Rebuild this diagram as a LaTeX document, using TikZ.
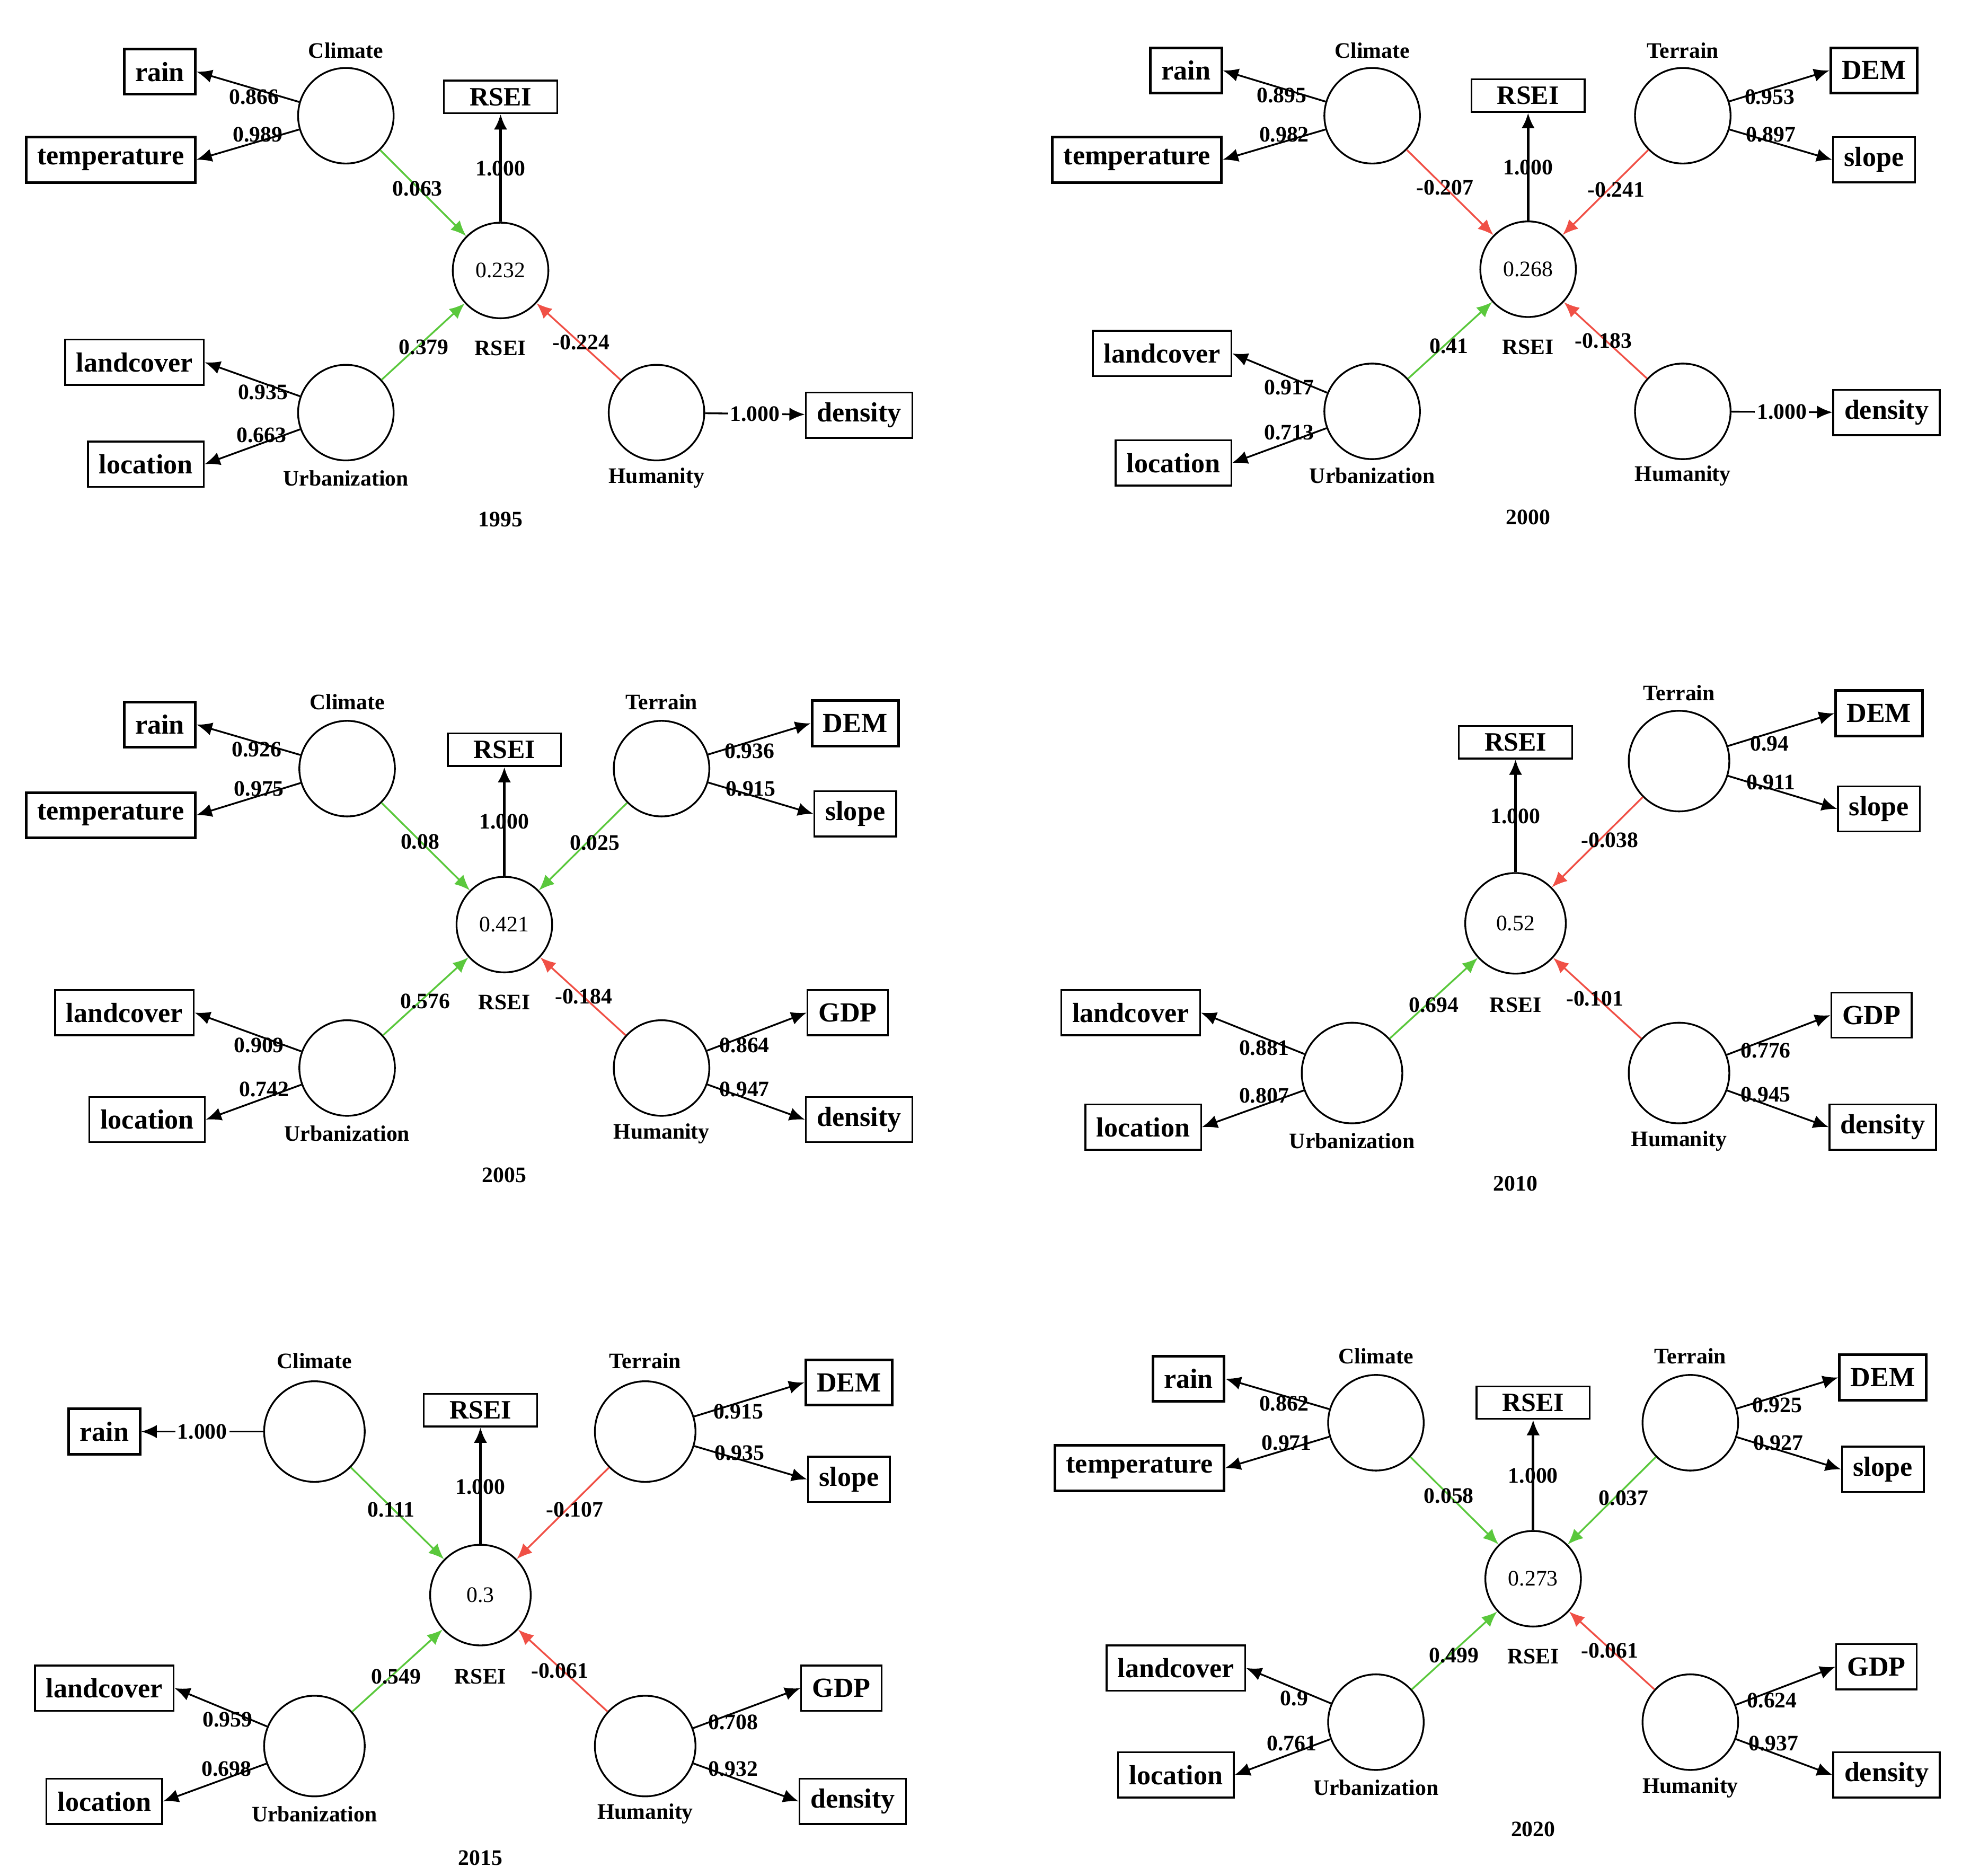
\documentclass[tikz,border=0pt]{standalone}
\usepackage{fontspec}
\setmainfont{Liberation Serif}
\usetikzlibrary{arrows.meta}
\definecolor{pg}{RGB}{90,200,60}
\definecolor{pr}{RGB}{240,80,70}
\begin{document}
\begin{tikzpicture}[x=0.02cm,y=-0.02cm,
 lat/.style={circle,draw,thick,minimum size=1.52cm,inner sep=0pt,font=\fontsize{10}{12}\selectfont},
 box/.style={draw,very thick,font=\bfseries\fontsize{12.5}{14}\selectfont,minimum height=0.72cm,inner xsep=5pt},
 rbox/.style={draw,thick,font=\bfseries\fontsize{12}{14}\selectfont,minimum height=0.5cm,minimum width=1.8cm},
 lab/.style={font=\bfseries\fontsize{10}{12}\selectfont,inner sep=1pt},
 tit/.style={font=\bfseries\fontsize{10}{12}\selectfont},
 ld/.style={thick,-{Latex[length=7pt,width=6pt]}},
 parr/.style={pg,thick,-{Latex[length=7pt,width=6pt]}},
 narr/.style={pr,thick,-{Latex[length=7pt,width=6pt]}},
 pth/.style={very thick,black,-{Latex[length=7pt,width=6pt]}}]
\useasboundingbox (0,0) rectangle (1560,1491);
% ===== 1995 =====
\node[lat] (aC) at (275,92) {};
\node[tit] (aCt) at (275,40) {Climate};
\node[lat] (aR) at (398,215) {0.232};
\node[tit] (aRt) at (398,277) {RSEI};
\node[lat] (aU) at (275,328) {};
\node[tit] (aUt) at (275,380) {Urbanization};
\node[lat] (aH) at (522,328) {};
\node[tit] (aHt) at (522,380) {Humanity};
\node[rbox] (aRb) at (398,77) {RSEI};
\node[box] (arain) at (127,57) {rain};
\node[box] (atemp) at (88,127) {temperature};
\node[box,thick] (aland) at (107,288) {landcover};
\node[box,thick] (aloc) at (116,369) {location};
\node[box,thick] (aden) at (683,330) {density};
\node[tit] (ay) at (398,413) {1995};
\draw[ld] (aC) -- (arain.east); \node[lab] at (202,77) {0.866};
\draw[ld] (aC) -- (atemp.east); \node[lab] at (205,107) {0.989};
\draw[parr] (aC) -- (aR); \node[lab] at (332,150) {0.063};
\draw[parr] (aU) -- (aR); \node[lab] at (337,276) {0.379};
\draw[narr] (aH) -- (aR); \node[lab] at (462,272) {-0.224};
\draw[pth] (aR) -- (aRb); \node[lab] at (398,134) {1.000};
\draw[ld] (aU) -- (aland.east); \node[lab] at (209,312) {0.935};
\draw[ld] (aU) -- (aloc.east); \node[lab] at (208,346) {0.663};
\draw[ld] (aH) -- node[lab,fill=white] {1.000} (aden);
% ===== 2000 =====
\node[lat] (bC) at (1091,92) {};
\node[tit] (bCt) at (1091,40) {Climate};
\node[lat] (bT) at (1338,92) {};
\node[tit] (bTt) at (1338,40) {Terrain};
\node[lat] (bR) at (1215,214) {0.268};
\node[tit] (bRt) at (1215,276) {RSEI};
\node[lat] (bU) at (1091,327) {};
\node[tit] (bUt) at (1091,378) {Urbanization};
\node[lat] (bH) at (1338,327) {};
\node[tit] (bHt) at (1338,378) {Humanity};
\node[rbox] (bRb) at (1215,76) {RSEI};
\node[box] (brain) at (943,56) {rain};
\node[box] (btemp) at (904,127) {temperature};
\node[box] (bdem) at (1490,56) {DEM};
\node[box,thick] (bslope) at (1490,127) {slope};
\node[box,thick] (bland) at (924,281) {landcover};
\node[box,thick] (bloc) at (933,368) {location};
\node[box,thick] (bden) at (1500,328) {density};
\node[tit] (by) at (1215,411) {2000};
\draw[ld] (bC) -- (brain.east); \node[lab] at (1019,76) {0.895};
\draw[ld] (bC) -- (btemp.east); \node[lab] at (1021,107) {0.982};
\draw[ld] (bT) -- (bdem.west); \node[lab] at (1407,77) {0.953};
\draw[ld] (bT) -- (bslope.west); \node[lab] at (1408,107) {0.897};
\draw[narr] (bC) -- (bR); \node[lab] at (1149,149) {-0.207};
\draw[narr] (bT) -- (bR); \node[lab] at (1285,151) {-0.241};
\draw[parr] (bU) -- (bR); \node[lab] at (1152,275) {0.41};
\draw[narr] (bH) -- (bR); \node[lab] at (1275,271) {-0.183};
\draw[pth] (bR) -- (bRb); \node[lab] at (1215,133) {1.000};
\draw[ld] (bU) -- (bland.east); \node[lab] at (1025,308) {0.917};
\draw[ld] (bU) -- (bloc.east); \node[lab] at (1025,344) {0.713};
\draw[ld] (bH) -- node[lab,fill=white] {1.000} (bden);
% ===== 2005 =====
\node[lat] (cC) at (276,611) {};
\node[tit] (cCt) at (276,558) {Climate};
\node[lat] (cT) at (526,611) {};
\node[tit] (cTt) at (526,558) {Terrain};
\node[lat] (cR) at (401,735) {0.421};
\node[tit] (cRt) at (401,797) {RSEI};
\node[lat] (cU) at (276,849) {};
\node[tit] (cUt) at (276,901) {Urbanization};
\node[lat] (cH) at (526,849) {};
\node[tit] (cHt) at (526,901) {Humanity};
\node[rbox] (cRb) at (401,596) {RSEI};
\node[box] (crain) at (127,576) {rain};
\node[box] (ctemp) at (88,648) {temperature};
\node[box] (cdem) at (680,575) {DEM};
\node[box,thick] (cslope) at (680,647) {slope};
\node[box,thick] (cland) at (99,805) {landcover};
\node[box,thick] (cloc) at (117,890) {location};
\node[box,thick] (cgdp) at (674,805) {GDP};
\node[box,thick] (cden) at (683,890) {density};
\node[tit] (cy) at (401,934) {2005};
\draw[ld] (cC) -- (crain.east); \node[lab] at (204,596) {0.926};
\draw[ld] (cC) -- (ctemp.east); \node[lab] at (206,627) {0.975};
\draw[ld] (cT) -- (cdem.west); \node[lab] at (596,597) {0.936};
\draw[ld] (cT) -- (cslope.west); \node[lab] at (597,627) {0.915};
\draw[parr] (cC) -- (cR); \node[lab] at (334,669) {0.08};
\draw[parr] (cT) -- (cR); \node[lab] at (473,670) {0.025};
\draw[parr] (cU) -- (cR); \node[lab] at (338,796) {0.576};
\draw[narr] (cH) -- (cR); \node[lab] at (464,792) {-0.184};
\draw[pth] (cR) -- (cRb); \node[lab] at (401,653) {1.000};
\draw[ld] (cU) -- (cland.east); \node[lab] at (206,831) {0.909};
\draw[ld] (cU) -- (cloc.east); \node[lab] at (210,866) {0.742};
\draw[ld] (cH) -- (cgdp.west); \node[lab] at (592,831) {0.864};
\draw[ld] (cH) -- (cden.west); \node[lab] at (592,866) {0.947};
% ===== 2010 =====
\node[lat,minimum size=1.6cm] (dT) at (1335,605) {};
\node[tit] (dTt) at (1335,551) {Terrain};
\node[lat,minimum size=1.6cm] (dR) at (1205,734) {0.52};
\node[tit] (dRt) at (1205,799) {RSEI};
\node[lat,minimum size=1.6cm] (dU) at (1075,853) {};
\node[tit] (dUt) at (1075,907) {Urbanization};
\node[lat,minimum size=1.6cm] (dH) at (1335,853) {};
\node[tit] (dHt) at (1335,907) {Humanity};
\node[rbox] (dRb) at (1205,590) {RSEI};
\node[box] (ddem) at (1494,567) {DEM};
\node[box,thick] (dslope) at (1494,643) {slope};
\node[box,thick] (dland) at (899,805) {landcover};
\node[box,thick] (dloc) at (909,896) {location};
\node[box,thick] (dgdp) at (1488,807) {GDP};
\node[box,thick] (dden) at (1497,896) {density};
\node[tit] (dy) at (1205,941) {2010};
\draw[ld] (dT) -- (ddem.west); \node[lab] at (1407,591) {0.94};
\draw[ld] (dT) -- (dslope.west); \node[lab] at (1408,622) {0.911};
\draw[narr] (dT) -- (dR); \node[lab] at (1280,668) {-0.038};
\draw[parr] (dU) -- (dR); \node[lab] at (1140,799) {0.694};
\draw[narr] (dH) -- (dR); \node[lab] at (1268,794) {-0.101};
\draw[pth] (dR) -- (dRb); \node[lab] at (1205,649) {1.000};
\draw[ld] (dU) -- (dland.east); \node[lab] at (1005,833) {0.881};
\draw[ld] (dU) -- (dloc.east); \node[lab] at (1005,871) {0.807};
\draw[ld] (dH) -- (dgdp.west); \node[lab] at (1404,835) {0.776};
\draw[ld] (dH) -- (dden.west); \node[lab] at (1404,870) {0.945};
% ===== 2015 =====
\node[lat,minimum size=1.6cm] (eC) at (250,1138) {};
\node[tit] (eCt) at (250,1082) {Climate};
\node[lat,minimum size=1.6cm] (eT) at (513,1138) {};
\node[tit] (eTt) at (513,1082) {Terrain};
\node[lat,minimum size=1.6cm] (eR) at (382,1268) {0.3};
\node[tit] (eRt) at (382,1333) {RSEI};
\node[lat,minimum size=1.6cm] (eU) at (250,1388) {};
\node[tit] (eUt) at (250,1442) {Urbanization};
\node[lat,minimum size=1.6cm] (eH) at (513,1388) {};
\node[tit] (eHt) at (513,1442) {Humanity};
\node[rbox] (eRb) at (382,1121) {RSEI};
\node[box] (erain) at (83,1138) {rain};
\node[box] (edem) at (675,1099) {DEM};
\node[box,thick] (eslope) at (675,1176) {slope};
\node[box,thick] (eland) at (83,1342) {landcover};
\node[box,thick] (eloc) at (83,1432) {location};
\node[box,thick] (egdp) at (669,1342) {GDP};
\node[box,thick] (eden) at (678,1432) {density};
\node[tit] (ey) at (382,1477) {2015};
\draw[ld] (eC) -- node[lab,fill=white] {1.000} (erain);
\draw[ld] (eT) -- (edem.west); \node[lab] at (587,1122) {0.915};
\draw[ld] (eT) -- (eslope.west); \node[lab] at (588,1155) {0.935};
\draw[parr] (eC) -- (eR); \node[lab] at (311,1200) {0.111};
\draw[narr] (eT) -- (eR); \node[lab] at (457,1200) {-0.107};
\draw[parr] (eU) -- (eR); \node[lab] at (315,1333) {0.549};
\draw[narr] (eH) -- (eR); \node[lab] at (445,1328) {-0.061};
\draw[pth] (eR) -- (eRb); \node[lab] at (382,1182) {1.000};
\draw[ld] (eU) -- (eland.east); \node[lab] at (181,1367) {0.959};
\draw[ld] (eU) -- (eloc.east); \node[lab] at (180,1406) {0.698};
\draw[ld] (eH) -- (egdp.west); \node[lab] at (583,1369) {0.708};
\draw[ld] (eH) -- (eden.west); \node[lab] at (583,1406) {0.932};
% ===== 2020 =====
\node[lat] (fC) at (1094,1131) {};
\node[tit] (fCt) at (1094,1078) {Climate};
\node[lat] (fT) at (1344,1131) {};
\node[tit] (fTt) at (1344,1078) {Terrain};
\node[lat] (fR) at (1219,1255) {0.273};
\node[tit] (fRt) at (1219,1317) {RSEI};
\node[lat] (fU) at (1094,1369) {};
\node[tit] (fUt) at (1094,1421) {Urbanization};
\node[lat] (fH) at (1344,1369) {};
\node[tit] (fHt) at (1344,1421) {Humanity};
\node[rbox] (fRb) at (1219,1115) {RSEI};
\node[box] (frain) at (945,1096) {rain};
\node[box] (ftemp) at (906,1167) {temperature};
\node[box] (fdem) at (1497,1095) {DEM};
\node[box,thick] (fslope) at (1497,1168) {slope};
\node[box,thick] (fland) at (935,1326) {landcover};
\node[box,thick] (floc) at (935,1411) {location};
\node[box,thick] (fgdp) at (1492,1325) {GDP};
\node[box,thick] (fden) at (1500,1411) {density};
\node[tit] (fy) at (1219,1454) {2020};
\draw[ld] (fC) -- (frain.east); \node[lab] at (1021,1116) {0.862};
\draw[ld] (fC) -- (ftemp.east); \node[lab] at (1023,1147) {0.971};
\draw[ld] (fT) -- (fdem.west); \node[lab] at (1413,1117) {0.925};
\draw[ld] (fT) -- (fslope.west); \node[lab] at (1414,1147) {0.927};
\draw[parr] (fC) -- (fR); \node[lab] at (1152,1189) {0.058};
\draw[parr] (fT) -- (fR); \node[lab] at (1291,1191) {0.037};
\draw[parr] (fU) -- (fR); \node[lab] at (1156,1316) {0.499};
\draw[narr] (fH) -- (fR); \node[lab] at (1280,1312) {-0.061};
\draw[pth] (fR) -- (fRb); \node[lab] at (1219,1173) {1.000};
\draw[ld] (fU) -- (fland.east); \node[lab] at (1029,1350) {0.9};
\draw[ld] (fU) -- (floc.east); \node[lab] at (1027,1386) {0.761};
\draw[ld] (fH) -- (fgdp.west); \node[lab] at (1409,1352) {0.624};
\draw[ld] (fH) -- (fden.west); \node[lab] at (1410,1386) {0.937};
\end{tikzpicture}
\end{document}
